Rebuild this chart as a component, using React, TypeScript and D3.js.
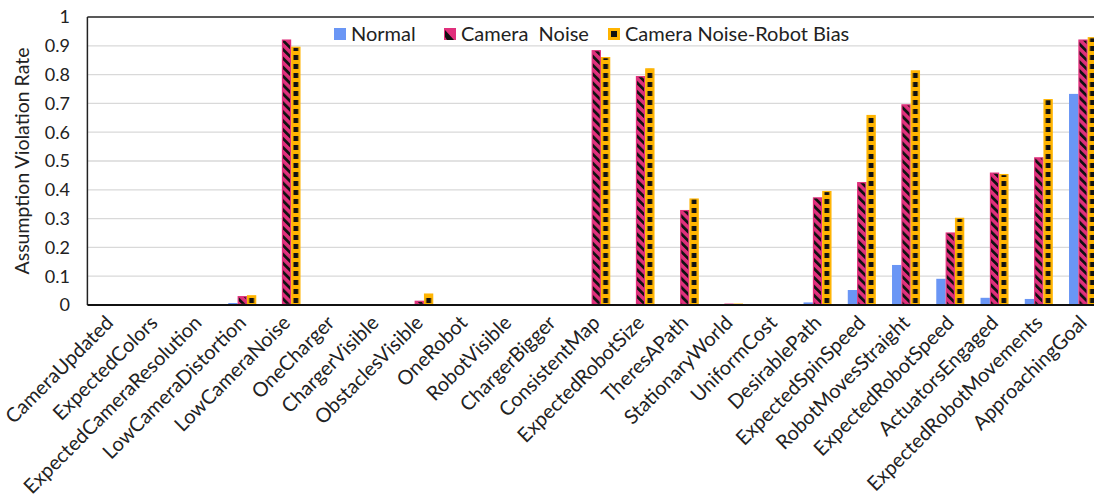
import React from "react";
import * as d3 from "d3";

const categories = [
  "CameraUpdated", "ExpectedColors", "ExpectedCameraResolution", "LowCameraDistortion",
  "LowCameraNoise", "OneCharger", "ChargerVisible", "ObstaclesVisible", "OneRobot",
  "RobotVisible", "ChargerBigger", "ConsistentMap", "ExpectedRobotSize", "TheresAPath",
  "StationaryWorld", "UniformCost", "DesirablePath", "ExpectedSpinSpeed",
  "RobotMovesStraight", "ExpectedRobotSpeed", "ActuatorsEngaged",
  "ExpectedRobotMovements", "ApproachingGoal",
];
const normal = [0, 0, 0, 0.007, 0, 0, 0, 0, 0, 0, 0, 0, 0, 0.003, 0.003, 0, 0.009, 0.052, 0.139, 0.091, 0.025, 0.021, 0.733];
const cameraNoise = [0, 0, 0, 0.031, 0.922, 0, 0, 0.015, 0, 0, 0, 0.885, 0.795, 0.33, 0.005, 0, 0.374, 0.427, 0.697, 0.252, 0.46, 0.513, 0.922];
const robotBias = [0, 0, 0, 0.034, 0.897, 0, 0, 0.04, 0, 0, 0, 0.861, 0.822, 0.37, 0.005, 0, 0.396, 0.66, 0.815, 0.303, 0.455, 0.715, 0.93];
const seriesNames = ["Normal", "Camera  Noise", "Camera Noise-Robot Bias"];
const yTicks = [0, 0.1, 0.2, 0.3, 0.4, 0.5, 0.6, 0.7, 0.8, 0.9, 1];

const BLUE = "#6a96f5";
const PINK = "#e0307c";
const ORANGE = "#ffb400";
const FONT = "Lato, 'Open Sans', sans-serif";

export default function App() {
  const W = 1094, H = 496;
  const left = 87.4, top = 17, bottom = 305;
  const step = 44.25;
  const right = left + step * categories.length;
  const p = 1 - 28 / step;

  const x = d3.scaleBand<string>().domain(categories).range([left, right]).paddingInner(p).paddingOuter(p / 2);
  const y = d3.scaleLinear().domain([0, 1]).range([bottom, top]);
  const series = [normal, cameraNoise, robotBias];
  const xs = d3.scaleBand<number>().domain([0, 1, 2]).range([0, x.bandwidth()]);
  const fills = [BLUE, "url(#stripes)", "url(#checks)"];
  const strokes = ["none", PINK, ORANGE];
  const sqX = (x(categories[0]) as number) + xs(2)! + xs.bandwidth() / 2 - left;

  return (
    <svg width={W} height={H} style={{ position: "absolute", left: 0, top: 0, background: "#fff" }}>
      <defs>
        <pattern id="stripes" patternUnits="userSpaceOnUse" width={6.3} height={6.3} patternTransform="rotate(-45)">
          <rect width={6.3} height={6.3} fill={PINK} />
          <rect x={0} width={2.8} height={6.3} fill="#111" />
        </pattern>
        <pattern id="checks" patternUnits="userSpaceOnUse" x={left} y={bottom} width={step} height={9}>
          <rect width={step} height={9} fill={ORANGE} />
          <rect x={sqX - 2.4} y={2} width={4.8} height={5} fill="#111" />
        </pattern>
      </defs>
      {yTicks.filter((t) => t > 0 && t < 1).map((t) => (
        <line key={t} x1={left} x2={right} y1={y(t)} y2={y(t)} stroke="#d9d9d9" strokeWidth={1.3} />
      ))}
      {categories.map((c, i) => (
        <g key={c}>
          {series.map((s, k) => {
            const v = s[i];
            if (v <= 0) return null;
            const bx = (x(c) as number) + xs(k)!;
            const sw = k === 0 ? 0 : 1.2;
            return (
              <rect key={k} x={bx + sw / 2} y={y(v) + sw / 2} width={xs.bandwidth() - sw}
                height={Math.max(0, y(0) - y(v) - sw)} fill={fills[k]} stroke={strokes[k]} strokeWidth={sw} />
            );
          })}
        </g>
      ))}
      <line x1={left} x2={right} y1={top} y2={top} stroke="#222" strokeWidth={1.6} />
      <line x1={left} x2={left} y1={top} y2={bottom} stroke="#222" strokeWidth={1.5} />
      <line x1={left} x2={right} y1={bottom} y2={bottom} stroke="#111" strokeWidth={2} />
      {yTicks.map((t) => (
        <text key={t} x={70} y={y(t)} dy="0.35em" textAnchor="end" fontFamily={FONT} fontSize={18} fill="#222">
          {d3.format("~g")(t)}
        </text>
      ))}
      <text transform={`translate(22,${(top + bottom) / 2}) rotate(-90)`} textAnchor="middle" dy="0.35em"
        fontFamily={FONT} fontSize={19.5} fill="#222">Assumption Violation Rate</text>
      {categories.map((c) => {
        const cx = (x(c) as number) + x.bandwidth() / 2;
        return (
          <text key={c} transform={`translate(${cx + 5},${bottom + 19}) rotate(-45)`} textAnchor="end"
            fontFamily={FONT} fontSize={20} fill="#222">{c}</text>
        );
      })}
      {seriesNames.map((n, k) => {
        const lx = [334, 444, 608][k];
        const ly = 34;
        return (
          <g key={n}>
            {k === 0 && <rect x={lx} y={ly - 6} width={12} height={12} fill={BLUE} />}
            {k === 1 && (
              <g>
                <rect x={lx} y={ly - 6} width={12} height={12} fill={PINK} />
                <path d={`M${lx + 1},${ly - 4} L${lx + 10},${ly + 6} L${lx + 3},${ly + 6} L${lx + 1},${ly + 3} Z`} fill="#111" />
              </g>
            )}
            {k === 2 && (
              <g>
                <rect x={lx} y={ly - 6} width={12} height={12} fill={ORANGE} />
                <rect x={lx + 3} y={ly - 3} width={6} height={6} fill="#111" />
              </g>
            )}
            <text x={lx + 17} y={ly} dy="0.35em" fontFamily={FONT} fontSize={20} fill="#222">
              {n.replace("  ", "\u00a0 ")}
            </text>
          </g>
        );
      })}
    </svg>
  );
}
